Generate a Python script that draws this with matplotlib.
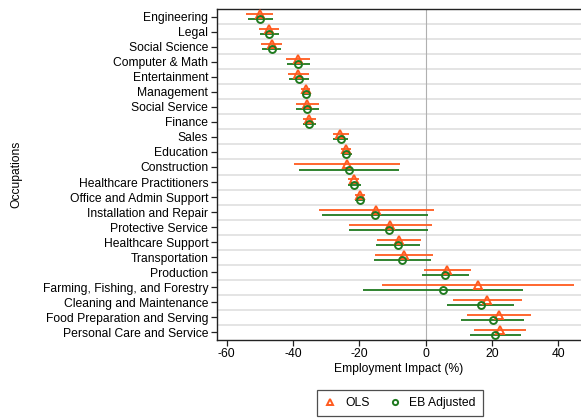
import matplotlib
matplotlib.use("Agg")
import matplotlib.pyplot as plt
import numpy as np

plt.rcParams['font.family'] = ['Liberation Sans', 'DejaVu Sans']

occupations = ["Engineering", "Legal", "Social Science", "Computer & Math", "Entertainment",
               "Management", "Social Service", "Finance", "Sales", "Education", "Construction",
               "Healthcare Practitioners", "Office and Admin Support", "Installation and Repair",
               "Protective Service", "Healthcare Support", "Transportation", "Production",
               "Farming, Fishing, and Forestry", "Cleaning and Maintenance",
               "Food Preparation and Serving", "Personal Care and Service"]

ols =    [-50.1, -47.3, -46.4, -38.6, -38.4, -36.1, -35.8, -35.1, -25.7, -24.0, -23.8,
          -21.7, -19.8, -15.0, -10.8, -8.1, -6.6, 6.5, 15.8, 18.6, 22.0, 22.3]
ols_lo = [-54.1, -50.3, -49.6, -42.0, -41.5, -37.5, -39.2, -37.0, -27.9, -25.5, -39.7,
          -23.5, -21.4, -32.1, -23.1, -14.7, -15.3, -0.5, -13.3, 8.2, 12.3, 14.5]
ols_hi = [-46.1, -44.1, -43.2, -34.9, -35.2, -34.8, -32.1, -33.0, -23.2, -22.4, -7.9,
          -20.0, -18.2, 2.5, 1.8, -1.5, 2.2, 13.6, 44.8, 29.0, 31.7, 30.1]

eb =     [-49.8, -47.1, -46.2, -38.4, -38.3, -36.0, -35.7, -35.1, -25.6, -23.9, -23.1,
          -21.6, -19.7, -15.4, -11.2, -8.3, -7.0, 5.9, 5.1, 16.6, 20.2, 21.0]
eb_lo =  [-53.7, -50.1, -49.3, -41.7, -41.3, -37.3, -39.1, -36.9, -27.9, -25.3, -38.1,
          -23.5, -21.2, -31.3, -23.1, -14.9, -15.6, -1.1, -18.9, 6.5, 10.6, 13.3]
eb_hi =  [-46.1, -44.3, -43.5, -34.8, -35.1, -34.8, -32.1, -33.1, -23.3, -22.1, -8.1,
          -19.6, -18.2, 0.7, 0.7, -1.7, 1.6, 13.0, 29.3, 26.7, 29.6, 28.6]

xticks = [-60, -40, -20, 0, 20, 40]

c_ols = '#ff5a1e'
c_eb = '#1f7a1f'

fig = plt.figure(figsize=(5.81, 4.18), dpi=100)
ax = fig.add_axes([216.7/581, 1-340/418, 1-216.7/581, (340-9)/418])

n = len(occupations)
y = np.arange(n)
off = 0.17

for i in range(n - 1):
    ax.axhline(i + 0.5, color='#e4e4e4', lw=1.4, zorder=0)
ax.axvline(0, color='#b0b0b0', lw=0.8, zorder=0.5)

ax.hlines(y - off, ols_lo, ols_hi, color=c_ols, lw=1.3, zorder=2)
ax.hlines(y + off, eb_lo, eb_hi, color=c_eb, lw=1.3, zorder=2)
h1, = ax.plot(ols, y - off, linestyle='none', marker='^', ms=5.5, mfc='none', mec=c_ols, mew=1.4,
              zorder=3, label='OLS')
h2, = ax.plot(eb, y + off, linestyle='none', marker='o', ms=5, mfc='none', mec=c_eb, mew=1.4,
              zorder=3, label='EB Adjusted')

ax.set_ylim(n - 0.5, -0.5)
ax.set_xlim(-63.0, 46.8)
ax.set_yticks(y)
ax.set_yticklabels(occupations, fontsize=8.7)
ax.set_xticks(xticks)
ax.set_xticklabels([str(v) for v in xticks], fontsize=8.7)
ax.tick_params(axis='both', direction='out', length=4, width=0.9, color='#222222', pad=2)
ax.set_xlabel('Employment Impact (%)', fontsize=8.7, labelpad=2)
ax.set_ylabel('Occupations', fontsize=8.7)
ax.yaxis.set_label_coords((22 - 216.7)/364.3, 0.5)
for s in ['left', 'bottom', 'top']:
    ax.spines[s].set_color('#222222')
    ax.spines[s].set_linewidth(1.0)
ax.spines['right'].set_visible(False)

leg = fig.legend(handles=[h1, h2], loc='center', bbox_to_anchor=(400/581, 1-403/418),
                 ncol=2, fontsize=8.7, frameon=True, fancybox=False, handlelength=1.0,
                 columnspacing=1.6, handletextpad=0.7, borderpad=0.6, markerscale=0.75)
leg.get_frame().set_edgecolor('#222222')
leg.get_frame().set_linewidth(0.9)

fig.savefig('out.png', dpi=100)
